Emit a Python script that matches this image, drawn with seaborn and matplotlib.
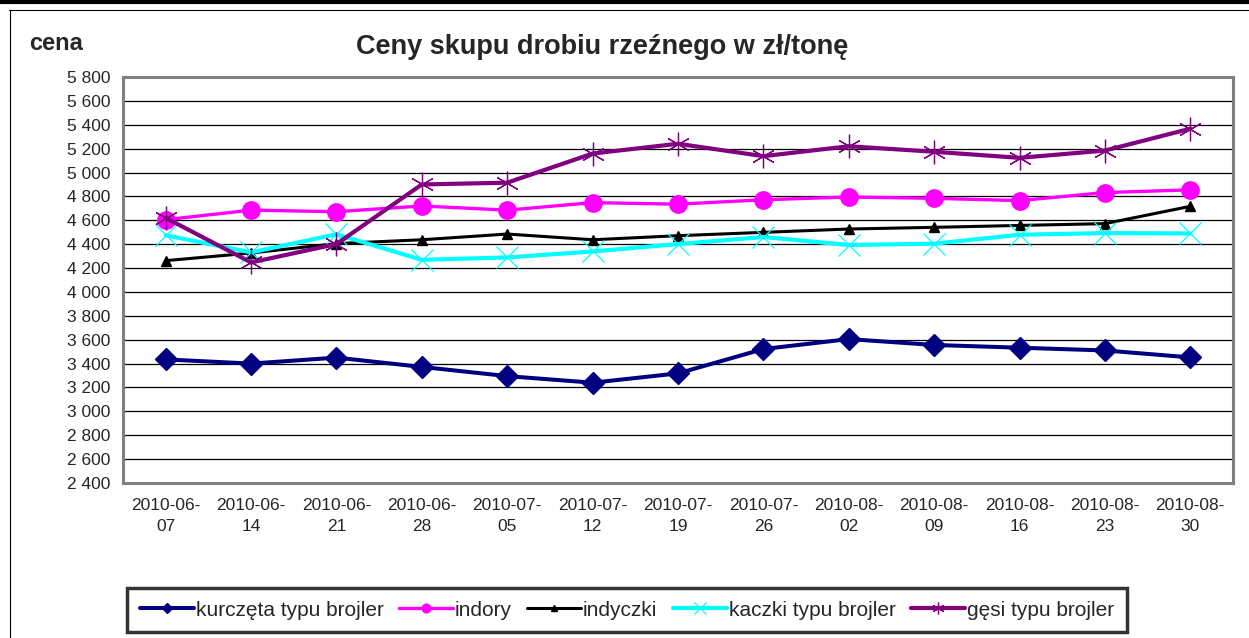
import matplotlib
matplotlib.use("Agg")
import matplotlib.pyplot as plt
import matplotlib.ticker as mticker
from matplotlib.lines import Line2D
import pandas as pd
import seaborn as sns

DATES = ["2010-06-07", "2010-06-14", "2010-06-21", "2010-06-28", "2010-07-05",
         "2010-07-12", "2010-07-19", "2010-07-26", "2010-08-02", "2010-08-09",
         "2010-08-16", "2010-08-23", "2010-08-30"]

KURCZETA = [3435, 3400, 3450, 3372, 3295, 3240, 3318, 3522, 3605, 3556, 3533, 3510, 3452]
INDORY = [4605, 4685, 4672, 4720, 4685, 4748, 4735, 4772, 4795, 4784, 4765, 4832, 4855]
INDYCZKI = [4262, 4326, 4405, 4437, 4485, 4437, 4471, 4499, 4527, 4541, 4557, 4572, 4717]
KACZKI = [4475, 4331, 4483, 4269, 4289, 4339, 4401, 4460, 4393, 4404, 4479, 4493, 4490]
GESI = [4620, 4247, 4401, 4900, 4915, 5159, 5241, 5137, 5220, 5174, 5123, 5184, 5367]

SERIES = [
    ("kurczęta typu brojler", KURCZETA, "#000080", "D", 11, 2.9, 1),
    ("indory", INDORY, "#FF00FF", "o", 12.5, 2.4, 1),
    ("indyczki", INDYCZKI, "#000000", "^", 7.5, 2.2, 1),
    ("kaczki typu brojler", KACZKI, "#00FFFF", "x", 16, 3.0, 0.9),
    ("gęsi typu brojler", GESI, "#800080", (6, 2, 0), 17, 3.0, 0.9),
]

Y_TICKS = list(range(2400, 5801, 200))

sns.set_style("white")
plt.rcParams["font.family"] = ["Liberation Sans", "DejaVu Sans"]

fig = plt.figure(figsize=(12.49, 6.38), dpi=100)
ax = fig.add_axes([123 / 1249, 1 - 483 / 638, (1233 - 123) / 1249, (483 - 77) / 638])

for name, vals, color, marker, ms, lw, mew in SERIES:
    df = pd.DataFrame({"data": DATES, "cena": vals})
    sns.lineplot(data=df, x="data", y="cena", ax=ax, color=color, lw=lw,
                 marker=marker, markersize=ms, markeredgewidth=mew,
                 markeredgecolor=color, markerfacecolor=color, label=name,
                 sort=False, legend=False)

ax.set_xlim(-0.5, len(DATES) - 0.5)
ax.set_ylim(Y_TICKS[0], Y_TICKS[-1])
ax.set_yticks(Y_TICKS)
ax.yaxis.set_major_formatter(mticker.FuncFormatter(lambda v, p: f"{int(v):,}".replace(",", " ")))
ax.set_xticks(range(len(DATES)))
ax.set_xticklabels([d[:8] + "\n" + d[8:] for d in DATES])
ax.set_xticks([i + 0.5 for i in range(-1, len(DATES))], minor=True)
ax.tick_params(axis="x", which="major", length=0, pad=11, labelsize=12.5)
ax.tick_params(axis="x", which="minor", length=5, width=1, color="#333333", direction="out")
ax.tick_params(axis="y", length=5, width=1, color="#333333", direction="out", pad=4, labelsize=12.5)
ax.set_xlabel("")
ax.set_ylabel("")
for lbl in ax.get_xticklabels():
    lbl.set_linespacing(1.45)

ax.yaxis.grid(True, color="black", lw=0.9)
ax.set_axisbelow(True)
for sp in ax.spines.values():
    sp.set_visible(True)
    sp.set_color("#808080")
    sp.set_linewidth(2.2)

fig.text(602 / 1249, 1 - 47 / 638, "Ceny skupu drobiu rzeźnego w zł/tonę", fontsize=19.5,
         fontweight="bold", ha="center", va="center")
fig.text(29 / 1249, 1 - 43 / 638, "cena", fontsize=17, fontweight="bold", va="center", ha="left")

handles = [Line2D([], [], color=c, lw=lw, marker=m, markersize=ms * 0.5, markeredgewidth=mew,
                  markeredgecolor=c, markerfacecolor=c)
           for _, _, c, m, ms, lw, mew in SERIES]
leg = fig.legend(handles, [s[0] for s in SERIES], loc="upper left", ncol=5,
                 bbox_to_anchor=(127 / 1249, 1 - 588 / 638), fontsize=15,
                 frameon=True, fancybox=False, edgecolor="black", handlelength=2.6,
                 handletextpad=0.1, columnspacing=0.72, borderpad=0.6, borderaxespad=0)
leg.get_frame().set_linewidth(2.5)

# outer frame of the sheet
fig.add_artist(Line2D([0, 1], [1 - 1.5 / 638] * 2, color="black", lw=3, transform=fig.transFigure))
fig.add_artist(Line2D([9 / 1249, 1], [1 - 9.5 / 638] * 2, color="black", lw=0.8, transform=fig.transFigure))
fig.add_artist(Line2D([9.5 / 1249] * 2, [0, 1 - 9.5 / 638], color="black", lw=0.8, transform=fig.transFigure))

fig.savefig("out.png", dpi=100)
